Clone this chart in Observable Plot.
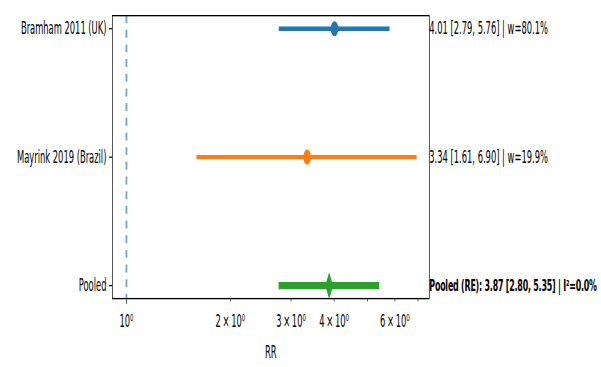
<!DOCTYPE html>
<html>
<head>
<meta charset="utf-8">
<script src="https://cdn.jsdelivr.net/npm/d3@7"></script>
<script src="https://cdn.jsdelivr.net/npm/@observablehq/plot@0.6"></script>
<style>
  html, body { margin: 0; padding: 0; background: white; overflow: hidden; }
  #wrap { width: 601px; height: 367px; overflow: hidden; position: relative; }
</style>
</head>
<body>
<div id="wrap"></div>
<script>
// ---- data ----
const studies = ["Bramham 2011 (UK)", "Mayrink 2019 (Brazil)"];
const studyRR = [4.01, 3.34];
const studyLo = [2.79, 1.61];
const studyHi = [5.76, 6.90];
const studyWeight = [80.1, 19.9];
const studyColors = ["#1f77b4", "#ff7f0e"];

const pooledLabel = "Pooled";
const pooledRR = 3.87;
const pooledLo = 2.80;
const pooledHi = 5.35;
const pooledI2 = 0.0;
const pooledColor = "#2ca02c";

const xTickValues = [1, 2, 3, 4, 5, 6, 7];
const xTickLabels = ["10⁰", "2\u2009×\u200910⁰", "3\u2009×\u200910⁰", "4\u2009×\u200910⁰", "", "6\u2009×\u200910⁰", ""];
const xLabel = "RR";
const refValue = [1];

// ---- derived tables ----
const studyRows = studies.map((s, i) => ({
  label: s, rr: studyRR[i], lo: studyLo[i], hi: studyHi[i], color: studyColors[i],
  note: `${studyRR[i].toFixed(2)} [${studyLo[i].toFixed(2)}, ${studyHi[i].toFixed(2)}] | w=${studyWeight[i].toFixed(1)}%`
}));
const pooledRows = [{
  label: pooledLabel, rr: pooledRR, lo: pooledLo, hi: pooledHi, color: pooledColor,
  note: `Pooled (RE): ${pooledRR.toFixed(2)} [${pooledLo.toFixed(2)}, ${pooledHi.toFixed(2)}] | I²=${pooledI2.toFixed(1)}%`
}];
const yDomain = [...studies, pooledLabel];
const fmt = v => { const i = xTickValues.indexOf(v); return i < 0 ? "" : xTickLabels[i]; };

// thin diamond symbol (matplotlib 'd')
const thinDiamond = {
  draw(ctx, size) {
    const r = Math.sqrt(size / Math.PI);
    ctx.moveTo(0, -r);
    ctx.lineTo(0.6 * r, 0);
    ctx.lineTo(0, r);
    ctx.lineTo(-0.6 * r, 0);
    ctx.closePath();
  }
};

// Figure drawn at 1000x300 then scaled to 601x367 like the reference
const SX = 0.601, SY = 1.2233;

const chart = Plot.plot({
  width: 1000,
  height: 300,
  marginLeft: 186.4,
  marginRight: 286.2,
  marginTop: 12.3,
  marginBottom: 56.4,
  style: {
    fontFamily: "DejaVu Sans",
    fontSize: "13.9px",
    color: "black",
    background: "white",
    maxWidth: "none",
    overflow: "visible",
    transform: `scale(${SX}, ${SY})`,
    transformOrigin: "0 0"
  },
  x: { type: "log", domain: [0.91, 7.55] },
  y: { type: "point", domain: yDomain, padding: 0.1 },
  color: { type: "identity" },
  marks: [
    Plot.ruleX(refValue, { stroke: "#1f77b4", strokeOpacity: 0.65, strokeWidth: 3, strokeDasharray: "6.5,5.5" }),
    Plot.ruleY(studyRows, { y: "label", x1: "lo", x2: "hi", stroke: "color", strokeWidth: 3.5, strokeLinecap: "square" }),
    Plot.dot(studyRows, { y: "label", x: "rr", fill: "color", r: 6.2, stroke: null }),
    Plot.ruleY(pooledRows, { y: "label", x1: "lo", x2: "hi", stroke: "color", strokeWidth: 6, strokeLinecap: "square" }),
    Plot.dot(pooledRows, { y: "label", x: "rr", fill: "color", r: 11, symbol: thinDiamond, stroke: null }),
    Plot.text(studyRows, { y: "label", text: "note", frameAnchor: "right", textAnchor: "start", dx: 0, fill: "black", fontSize: 13.9 }),
    Plot.text(pooledRows, { y: "label", text: "note", frameAnchor: "right", textAnchor: "start", dx: 0, fill: "black", fontSize: 13.2, fontWeight: "bold", style: "letter-spacing:-0.35px" }),
    Plot.frame({ stroke: "black", strokeWidth: 1.1 }),
    Plot.axisY({ tickSize: 4.9, tickPadding: 4.9, label: null, fontSize: 13.9 }),
    Plot.axisX(xTickValues.slice(0, 1), { tickSize: 4.9, tickPadding: 8.5, tickFormat: fmt, label: null, fontSize: 13.9 }),
    Plot.axisX(xTickValues.slice(1), { tickSize: 2.8, tickPadding: 10.6, tickFormat: fmt, label: null, fontSize: 13.9 }),
    Plot.text([xLabel], { frameAnchor: "bottom", dy: 44, lineAnchor: "middle", fill: "black", fontSize: 13.9 })
  ]
});

// tighten the bold pooled annotation so it fits like the reference
chart.querySelectorAll("text").forEach(t => {
  if (t.textContent.startsWith("Pooled (RE)")) t.style.letterSpacing = "-0.35px";
});

document.getElementById("wrap").appendChild(chart);
</script>
</body>
</html>
